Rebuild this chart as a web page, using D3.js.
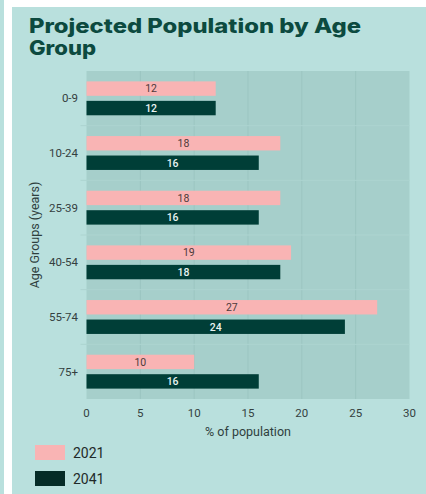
<!DOCTYPE html>
<html>
<head>
<meta charset="utf-8">
<script src="https://cdn.jsdelivr.net/npm/d3@7"></script>
<style>
  html, body { margin: 0; padding: 0; background: #ffffff; }
  svg { display: block; }
</style>
</head>
<body>
<div id="chart"></div>
<script>
// Age groups and projected share of population (%) for two years
const ageGroups = ["0-9", "10-24", "25-39", "40-54", "55-74", "75+"];
const seriesNames = ["2021", "2041"];
const values2021 = [12, 18, 18, 19, 27, 10];
const values2041 = [12, 16, 16, 18, 24, 16];
const xTicks = [0, 5, 10, 15, 20, 25, 30];
const seriesColors = ["#f9b4b4", "#003e37"];
const labelColors = ["#4d3a3a", "#e8f3f1"];

const W = 426, H = 494;
const card = { x: 12, y: 7 };
const plot = { left: 86.5, right: 409.5, top: 71, bottom: 399 };

const svg = d3.select("#chart").append("svg")
  .attr("width", W).attr("height", H);

// page background strips and card
svg.append("rect").attr("x", 0).attr("y", 0).attr("width", W).attr("height", H).attr("fill", "#ffffff");
svg.append("rect").attr("x", 0).attr("y", 0).attr("width", 4).attr("height", H).attr("fill", "#b9e0dd");
svg.append("rect").attr("x", card.x).attr("y", card.y).attr("width", W - card.x).attr("height", H - card.y).attr("fill", "#b9e0dd");

// title, two lines
const titleLines = [
  { text: "Projected Population by Age", y: 33, len: 332 },
  { text: "Group", y: 55, len: 67 }
];
svg.append("g").selectAll("text")
  .data(titleLines)
  .join("text")
  .attr("x", 29).attr("y", d => d.y)
  .attr("textLength", d => d.len)
  .attr("lengthAdjust", "spacingAndGlyphs")
  .attr("font-family", "Inter, 'Open Sans', sans-serif")
  .attr("font-weight", 800)
  .attr("font-size", 20)
  .attr("fill", "#0c4a3f")
  .text(d => d.text);

const x = d3.scaleLinear().domain([0, 30]).range([plot.left, plot.right]);
const y = d3.scaleBand().domain(ageGroups).range([plot.top, plot.bottom]).padding(0);
const bw = y.bandwidth();
const ySub = d3.scaleBand().domain(seriesNames)
  .range([bw * 0.19, bw * 0.81]).paddingInner(0.26);

// plot background
svg.append("rect")
  .attr("x", plot.left).attr("y", plot.top)
  .attr("width", plot.right - plot.left).attr("height", plot.bottom - plot.top)
  .attr("fill", "#a6cfcb");

// vertical gridlines
svg.append("g").selectAll("line")
  .data(xTicks.filter(t => t > 0 && t < 30))
  .join("line")
  .attr("x1", d => x(d)).attr("x2", d => x(d))
  .attr("y1", plot.top).attr("y2", plot.bottom)
  .attr("stroke", "#9bc5c1").attr("stroke-width", 1);

// band separators and small ticks on the category axis
const bounds = ageGroups.slice(1).map(g => y(g));
svg.append("g").selectAll("line")
  .data(bounds)
  .join("line")
  .attr("x1", plot.left - 6).attr("x2", plot.right)
  .attr("y1", d => d).attr("y2", d => d)
  .attr("stroke", "#add4d0").attr("stroke-width", 1);

// grouped bars
const rows = ageGroups.map((g, i) => ({ group: g, vals: [values2021[i], values2041[i]] }));
const gRows = svg.append("g").selectAll("g")
  .data(rows)
  .join("g")
  .attr("transform", d => `translate(0,${y(d.group)})`);

gRows.selectAll("rect")
  .data(d => d.vals.map((v, j) => ({ v, j })))
  .join("rect")
  .attr("x", x(0))
  .attr("y", d => ySub(seriesNames[d.j]))
  .attr("width", d => x(d.v) - x(0))
  .attr("height", ySub.bandwidth())
  .attr("fill", d => seriesColors[d.j]);

gRows.selectAll("text")
  .data(d => d.vals.map((v, j) => ({ v, j })))
  .join("text")
  .attr("x", d => (x(0) + x(d.v)) / 2)
  .attr("y", d => ySub(seriesNames[d.j]) + ySub.bandwidth() / 2)
  .attr("dy", "0.36em")
  .attr("text-anchor", "middle")
  .attr("font-family", "Roboto, sans-serif")
  .attr("font-size", 10.5)
  .attr("font-weight", d => d.j === 1 ? 500 : 400)
  .attr("fill", d => labelColors[d.j])
  .text(d => d.v);

// category labels
svg.append("g").selectAll("text")
  .data(ageGroups)
  .join("text")
  .attr("x", 78)
  .attr("y", d => y(d) + bw / 2)
  .attr("dy", "0.36em")
  .attr("text-anchor", "end")
  .attr("font-family", "Roboto, sans-serif")
  .attr("font-size", 11.5)
  .attr("fill", "#34403f")
  .text(d => d);

// value axis tick labels
svg.append("g").selectAll("text")
  .data(xTicks)
  .join("text")
  .attr("x", d => x(d))
  .attr("y", 413)
  .attr("dy", "0.36em")
  .attr("text-anchor", "middle")
  .attr("font-family", "Roboto, sans-serif")
  .attr("font-size", 11.5)
  .attr("fill", "#34403f")
  .text(d => d);

// axis titles
svg.append("text")
  .attr("x", (plot.left + plot.right) / 2)
  .attr("y", 431)
  .attr("dy", "0.36em")
  .attr("text-anchor", "middle")
  .attr("font-family", "Roboto, sans-serif")
  .attr("font-size", 12.5)
  .attr("fill", "#2f3f3d")
  .text("% of population");

svg.append("text")
  .attr("transform", `translate(34,${(plot.top + plot.bottom) / 2}) rotate(-90)`)
  .attr("text-anchor", "middle")
  .attr("dy", "0.36em")
  .attr("font-family", "Roboto, sans-serif")
  .attr("font-size", 12.5)
  .attr("fill", "#2f3f3d")
  .text("Age Groups (years)");

// legend
const legend = svg.append("g").selectAll("g")
  .data(seriesNames)
  .join("g")
  .attr("transform", (d, i) => `translate(35,${445 + i * 26})`);
legend.append("rect")
  .attr("width", 30).attr("height", 15)
  .attr("fill", (d, i) => i === 1 ? "#052c27" : seriesColors[i]);
legend.append("text")
  .attr("x", 38).attr("y", 7.5)
  .attr("dy", "0.36em")
  .attr("font-family", "Roboto, sans-serif")
  .attr("font-size", 14)
  .attr("fill", "#1f2a29")
  .text(d => d);
</script>
</body>
</html>
